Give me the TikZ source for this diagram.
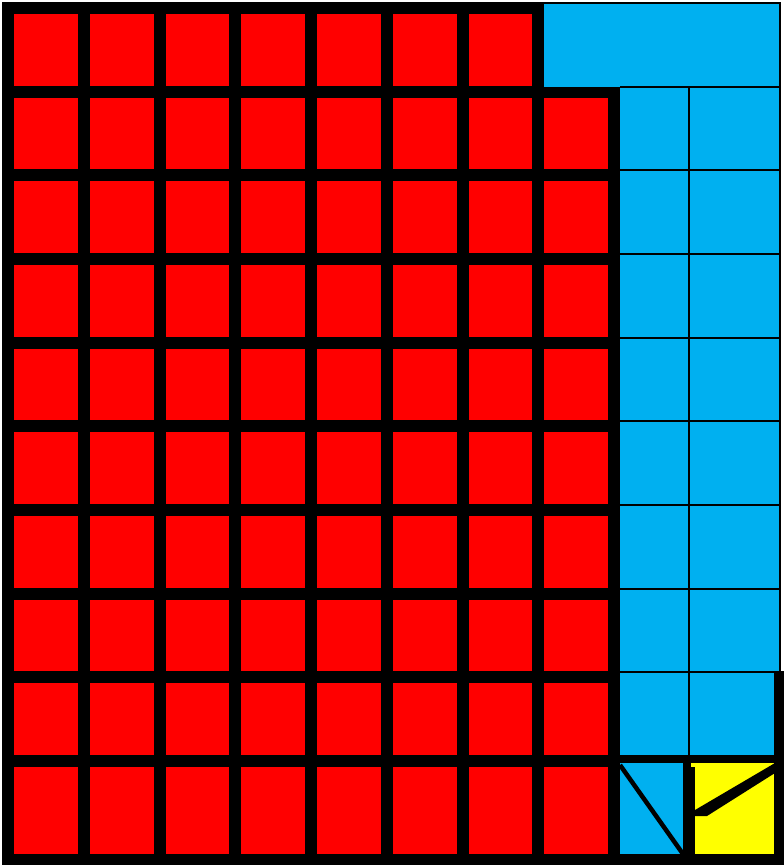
\documentclass[tikz,border=0pt]{standalone}
\definecolor{cellred}{RGB}{255,0,0}
\definecolor{cellblue}{RGB}{0,176,240}
\definecolor{cellyellow}{RGB}{255,255,0}
\begin{document}
\begin{tikzpicture}[x=1pt,y=-1pt,
  thinline/.style={line width=2pt, draw=black},
  frame/.style={fill=black},
  redcell/.style={fill=cellred},
  bluecell/.style={fill=cellblue},
  yellowcell/.style={fill=cellyellow}]
\useasboundingbox (0,0) rectangle (784,865);
\clip (0,0) rectangle (784,865);
% black frame behind the red grid
\path[frame] (2,2) -- (544,2) -- (544,86) -- (620,86) -- (620,870) -- (2,870) -- cycle;
% red cells
\foreach \i in {0,...,7}{
  \foreach \j in {0,...,9}{
    \pgfmathsetmacro\xa{8+75.75*\i+6}
    \pgfmathsetmacro\xb{8+75.75*(\i+1)-6}
    \pgfmathsetmacro\ya{8+83.67*\j+6}
    \pgfmathsetmacro\yb{ifthenelse(\j==9,854,8+83.67*(\j+1)-6)}
    \pgfmathtruncatemacro\omitcell{and(\i==7,\j==0)}
    \ifnum\omitcell=0 \path[redcell] (\xa,\ya) rectangle (\xb,\yb);\fi
  }
}
% blue region
\path[bluecell] (544,2.5) rectangle (780,87);
\path[bluecell] (620,87) rectangle (780,755);
% thin grid of the blue region
\draw[thinline] (544,2.5) -- (780,2.5) -- (780,672.3);
\foreach \k in {1,...,8}{
  \pgfmathsetmacro\yy{8+83.67*\k-5}
  \draw[thinline] (620,\yy) -- (780,\yy);
}
\draw[thinline] (689,87) -- (689,755);
% thick frame of the bottom-right block
\path[frame] (620,755) rectangle (790,870);
\path[frame] (774,671.3) rectangle (790,870);
% bottom-right cells
\path[bluecell] (620,763) rectangle (683,854);
\path[yellowcell] (691,763) rectangle (774,854);
\path[frame] (683,767) rectangle (695,854);
% diagonals
\draw[black, line width=4.5pt] (620,765) -- (683,854);
\path[frame] (695,810) -- (775,763) -- (775,773) -- (707,816) -- (695,816) -- cycle;
\end{tikzpicture}
\end{document}
